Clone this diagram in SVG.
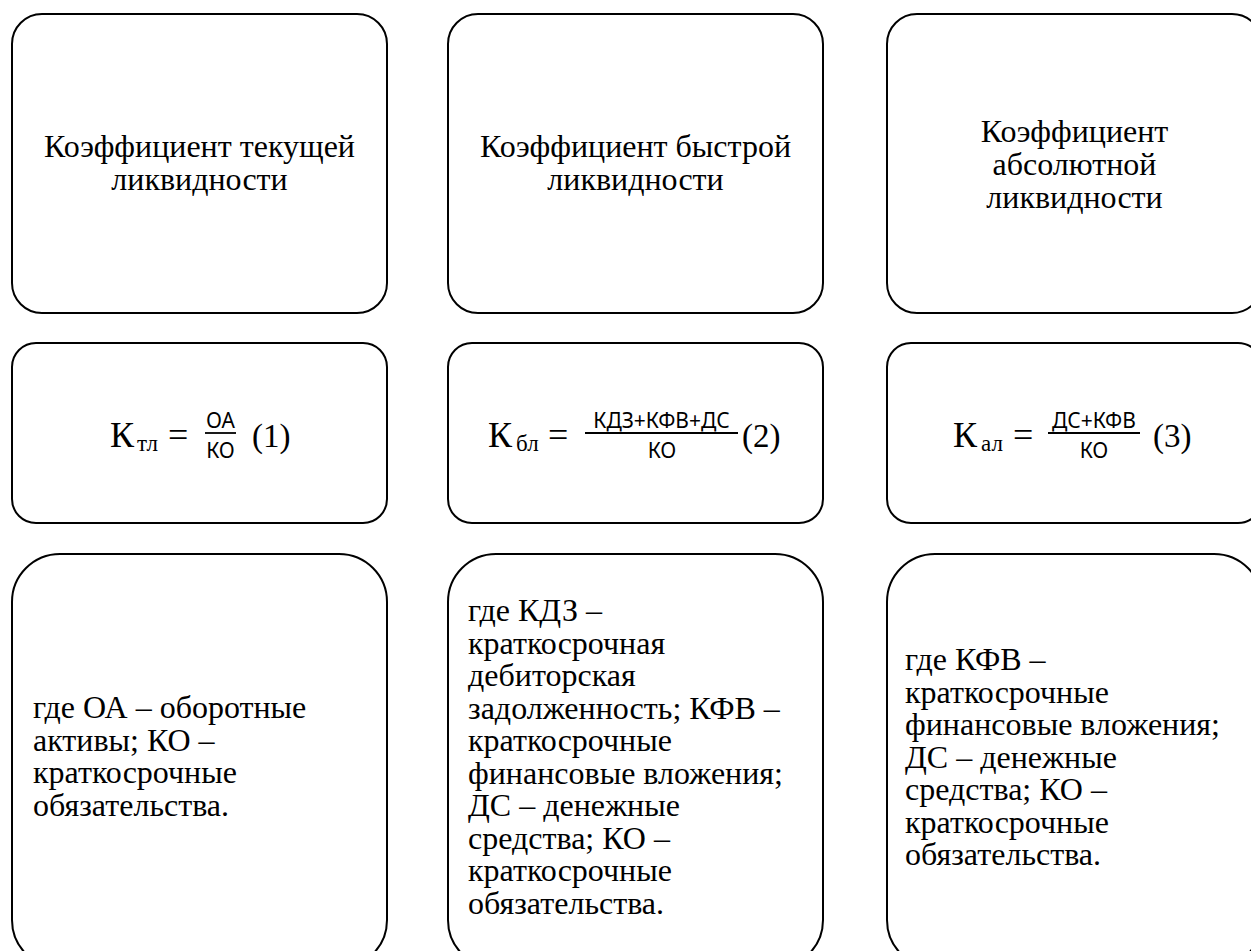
<svg xmlns="http://www.w3.org/2000/svg" width="1251" height="951" viewBox="0 0 1251 951">
<style>
.box{fill:#fff;stroke:#000;stroke-width:2}
.t{font-family:"Liberation Serif","Times New Roman",serif;font-size:32px;fill:#000}
.c{text-anchor:middle}
.m{font-family:"Liberation Serif","Times New Roman",serif;font-size:36px;fill:#000}
.p{font-family:"Liberation Serif","Times New Roman",serif;font-size:33px;fill:#000}
.sub{font-family:"Liberation Serif","Times New Roman",serif;font-size:23px;fill:#000}
.fr{font-family:"Noto Sans","DejaVu Sans",sans-serif;font-size:21px;fill:#000;text-anchor:middle}
.bar{stroke:#000;stroke-width:1.8}
</style>
<rect width="1251" height="951" fill="#fff"/>
<g id="connectors"/>
<g id="n1">
<rect class="box" x="12" y="14" width="375" height="299" rx="30"/>
<text class="t c" x="199.5" y="157">Коэффициент текущей</text>
<text class="t c" x="199.5" y="190">ликвидности</text>
</g>
<g id="n2">
<rect class="box" x="448" y="14" width="375" height="299" rx="30"/>
<text class="t c" x="635.5" y="157">Коэффициент быстрой</text>
<text class="t c" x="635.5" y="190">ликвидности</text>
</g>
<g id="n3">
<rect class="box" x="887" y="14" width="375" height="299" rx="30"/>
<text class="t c" x="1074.5" y="142">Коэффициент</text>
<text class="t c" x="1074.5" y="175">абсолютной</text>
<text class="t c" x="1074.5" y="208">ликвидности</text>
</g>
<g id="f1">
<rect class="box" x="12" y="343" width="375" height="180" rx="24"/>
<text class="m" x="110" y="447">К</text>
<text class="sub" x="137" y="451">тл</text>
<text class="m" x="168" y="447">=</text>
<text class="fr" x="220.5" y="428">ОА</text>
<line class="bar" x1="205" y1="433" x2="236" y2="433"/>
<text class="fr" x="220.5" y="458">КО</text>
<text class="p" x="252" y="447">(1)</text>
</g>
<g id="f2">
<rect class="box" x="448" y="343" width="375" height="180" rx="24"/>
<text class="m" x="488" y="447">К</text>
<text class="sub" x="516" y="451">бл</text>
<text class="m" x="548" y="447">=</text>
<text class="fr" x="661.5" y="428">КДЗ+КФВ+ДС</text>
<line class="bar" x1="585" y1="433" x2="738" y2="433"/>
<text class="fr" x="662" y="458">КО</text>
<text class="p" x="742" y="447">(2)</text>
</g>
<g id="f3">
<rect class="box" x="887" y="343" width="375" height="180" rx="24"/>
<text class="m" x="953" y="447">К</text>
<text class="sub" x="981" y="451">ал</text>
<text class="m" x="1013" y="447">=</text>
<text class="fr" x="1094" y="428">ДС+КФВ</text>
<line class="bar" x1="1048" y1="433" x2="1140" y2="433"/>
<text class="fr" x="1094" y="458">КО</text>
<text class="p" x="1153" y="447">(3)</text>
</g>
<g id="d1">
<rect class="box" x="12" y="554" width="375" height="414" rx="48"/>
<text class="t" x="33" y="718">где ОА – оборотные</text>
<text class="t" x="33" y="750.5">активы; КО –</text>
<text class="t" x="33" y="783">краткосрочные</text>
<text class="t" x="33" y="815.5">обязательства.</text>
</g>
<g id="d2">
<rect class="box" x="448" y="554" width="375" height="414" rx="48"/>
<text class="t" x="468" y="621">где КДЗ –</text>
<text class="t" x="468" y="653.5">краткосрочная</text>
<text class="t" x="468" y="686">дебиторская</text>
<text class="t" x="468" y="718.5">задолженность; КФВ –</text>
<text class="t" x="468" y="751">краткосрочные</text>
<text class="t" x="468" y="783.5">финансовые вложения;</text>
<text class="t" x="468" y="816">ДС – денежные</text>
<text class="t" x="468" y="848.5">средства; КО –</text>
<text class="t" x="468" y="881">краткосрочные</text>
<text class="t" x="468" y="913.5">обязательства.</text>
</g>
<g id="d3">
<rect class="box" x="887" y="554" width="375" height="414" rx="48"/>
<text class="t" x="905" y="670">где КФВ –</text>
<text class="t" x="905" y="702.5">краткосрочные</text>
<text class="t" x="905" y="735">финансовые вложения;</text>
<text class="t" x="905" y="767.5">ДС – денежные</text>
<text class="t" x="905" y="800">средства; КО –</text>
<text class="t" x="905" y="832.5">краткосрочные</text>
<text class="t" x="905" y="865">обязательства.</text>
</g>
</svg>
